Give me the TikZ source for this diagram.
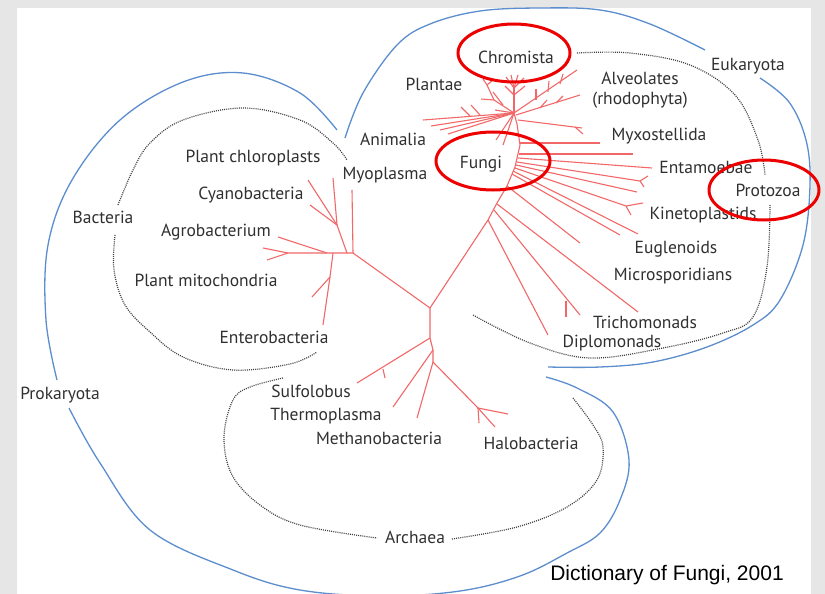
\documentclass[tikz,border=0pt]{standalone}
\usepackage{fontspec}
\setmainfont{PT Sans}
\newfontfamily\captionfont{Liberation Sans}
\usetikzlibrary{positioning}

\definecolor{treered}{RGB}{242,104,104}
\definecolor{groupblue}{RGB}{92,142,206}
\definecolor{ringred}{RGB}{236,0,0}
\definecolor{labelgray}{RGB}{48,48,48}
\definecolor{panelgray}{RGB}{230,230,230}

\begin{document}
\begin{tikzpicture}[x=1pt,y=-1pt]

    \tikzstyle{taxon} = [text=labelgray, font=\fontsize{17.5}{19}\selectfont,
        inner sep=1pt, text height=1.5ex, text depth=.25ex, yshift=-3pt]
    \tikzstyle{branch} = [draw=treered, line width=1.1pt]
    \tikzstyle{realm} = [draw=groupblue, line width=1.3pt]
    \tikzstyle{clade} = [draw=black!75, line width=1.2pt, dash pattern=on 1pt off 1.1pt]
    \tikzstyle{ring} = [draw=ringred, line width=3pt]

    % Background
    \useasboundingbox (0,0) rectangle (825,594);
    \fill[panelgray] (0,0) rectangle (825,594);
    \fill[white] (17,8) rectangle (811,594);

    % Eukaryota
    \node[taxon] (chromista) at (516,57) {Chromista};
    \node[taxon] (plantae) at (434,84) {Plantae};
    \node[taxon] (alveolates) at (640,78) {Alveolates};
    \node[taxon, below=6pt of alveolates] (rhodophyta) {(rhodophyta)};
    \node[taxon] (eukaryota) at (748,64) {Eukaryota};
    \node[taxon] (animalia) at (393,139) {Animalia};
    \node[taxon] (myxostellida) at (659,134) {Myxostellida};
    \node[taxon] (fungi) at (481,162) {Fungi};
    \node[taxon] (entamoebae) at (706,167) {Entamoebae};
    \node[taxon] (protozoa) at (768,190) {Protozoa};
    \node[taxon] (kinetoplastids) at (703,213) {Kinetoplastids};
    \node[taxon] (euglenoids) at (676,247) {Euglenoids};
    \node[taxon] (microsporidians) at (673,274) {Microsporidians};
    \node[taxon] (trichomonads) at (645,322) {Trichomonads};
    \node[taxon] (diplomonads) at (612,341) {Diplomonads};

    % Bacteria
    \node[taxon] (chloroplasts) at (253,156) {Plant chloroplasts};
    \node[taxon] (myoplasma) at (385,173) {Myoplasma};
    \node[taxon] (cyanobacteria) at (251,193) {Cyanobacteria};
    \node[taxon] (bacteria) at (103,217) {Bacteria};
    \node[taxon] (agrobacterium) at (216,230) {Agrobacterium};
    \node[taxon] (mitochondria) at (206,280) {Plant mitochondria};
    \node[taxon] (enterobacteria) at (274,337) {Enterobacteria};
    \node[taxon] (prokaryota) at (60,393) {Prokaryota};

    % Archaea
    \node[taxon] (sulfolobus) at (311,391) {Sulfolobus};
    \node[taxon] (thermoplasma) at (326,414) {Thermoplasma};
    \node[taxon] (methanobacteria) at (379,438) {Methanobacteria};
    \node[taxon] (halobacteria) at (531,443) {Halobacteria};
    \node[taxon] (archaea) at (415,537) {Archaea};

    \node[font=\captionfont\fontsize{21}{23}\selectfont] (source) at (667,575) {Dictionary of Fungi, 2001};

    % Domains
    \draw[realm] plot[smooth, tension=0.6] coordinates {(337,130) (300,93) (243,73) (183,82)
        (120,120) (72,180) (48,245) (46,320) (57,380)};
    \draw[realm] plot[smooth, tension=0.6] coordinates {(69,408) (100,463) (150,530) (233,570)
        (300,590) (383,596) (460,591) (520,576) (567,553) (600,533) (620,500) (629,460)
        (613,412) (577,388) (546,377)};
    \draw[realm] plot[smooth, tension=0.6] coordinates {(345,138) (363,93) (397,45) (430,24)
        (480,11) (540,8) (600,10) (650,24) (705,50)};
    \draw[realm] plot[smooth, tension=0.6] coordinates {(760,78) (789,102) (806,140) (810,185)
        (803,245) (780,300) (753,325) (707,347) (653,362) (600,367) (548,367)};

    % Groups
    \draw[clade] plot[smooth, tension=0.6] coordinates {(118,205) (133,170) (150,143) (183,120)
        (243,108) (300,120) (333,143) (347,160)};
    \draw[clade] plot[smooth, tension=0.6] coordinates {(115,235) (114,270) (125,305) (150,332)
        (183,357) (233,370) (290,364) (317,352)};
    \draw[clade] plot[smooth, tension=0.6] coordinates {(577,53) (630,53) (690,65) (735,95)
        (758,140) (765,175)};
    \draw[clade] plot[smooth, tension=0.6] coordinates {(770,205) (767,267) (753,317) (723,333)
        (663,348) (590,358) (530,343) (473,315)};
    \draw[clade] plot[smooth, tension=0.6] coordinates {(283,378) (250,387) (233,400) (224,437)
        (232,475) (260,505) (300,525) (377,538)};
    \draw[clade] plot[smooth, tension=0.6] coordinates {(452,539) (517,527) (567,507) (597,480)
        (603,447) (593,425) (573,398)};

    % Tree
    \coordinate (root) at (430,308);
    \coordinate (bac) at (353,253);
    \coordinate (arc) at (430,338);
    \coordinate (crown) at (514,113);
    \draw[branch] (root) -- (bac);
    \draw[branch] (root) -- (arc) -- (433,350) -- (433,362);
    \draw[branch] (root) -- (488,220) -- (497,203) -- (507,186) -- (515,167) -- (520,145) -- (517,124) -- (crown);

    % bacterial branches
    \draw[branch] (bac) -- (352,190);
    \draw[branch] (bac) -- (288,253) -- (263,248);
    \draw[branch] (288,253) -- (267,260);
    \draw[branch] (347,253) -- (337,225) -- (333,178);
    \draw[branch] (337,225) -- (308,180);
    \draw[branch] (337,225) -- (310,205);
    \draw[branch] (327,253) -- (278,237);
    \draw[branch] (333,253) -- (330,277) -- (323,325);
    \draw[branch] (330,277) -- (312,297);

    % archaeal branches
    \draw[branch] (arc) -- (357,383);
    \draw[branch] (383,369) -- (385,378);
    \draw[branch] (433,350) -- (393,407);
    \draw[branch] (433,362) -- (417,418);
    \draw[branch] (433,362) -- (478,408) -- (508,414);
    \draw[branch] (478,408) -- (495,427);
    \draw[branch] (478,408) -- (479,423);

    % eukaryote branches
    \draw[branch] (488,220) -- (548,335);
    \draw[branch] (494,210) -- (580,315);
    \draw[branch] (566,301) -- (566,317);
    \draw[branch] (497,204) -- (638,312);
    \draw[branch] (507,186) -- (580,243);
    \draw[branch] (512,174) -- (620,235);
    \draw[branch] (513,171) -- (638,234);
    \draw[branch] (515,168) -- (626,206) -- (643,203);
    \draw[branch] (626,206) -- (631,215);
    \draw[branch] (516,165) -- (637,192);
    \draw[branch] (517,162) -- (640,181) -- (648,176);
    \draw[branch] (640,181) -- (644,187);
    \draw[branch] (518,158) -- (652,168);
    \draw[branch] (519,154) -- (633,154);
    \draw[branch] (520,143) -- (600,143);

    % crown
    \draw[branch] (crown) -- (514,88);
    \draw[branch] (514,88) -- (506,77);
    \draw[branch] (514,88) -- (511,75);
    \draw[branch] (514,88) -- (518,75);
    \draw[branch] (514,88) -- (524,78);
    \draw[branch] (514,95) -- (505,86);
    \draw[branch] (514,95) -- (525,86);
    \draw[branch] (crown) -- (494,100) -- (487,85);
    \draw[branch] (494,100) -- (481,99);
    \draw[branch] (487,85) -- (483,79);
    \draw[branch] (487,85) -- (493,80);
    \draw[branch] (crown) -- (495,110);
    \draw[branch] (503,105) -- (493,92);
    \draw[branch] (crown) -- (423,120);
    \draw[branch] (crown) -- (431,126);
    \draw[branch] (crown) -- (440,130);
    \draw[branch] (crown) -- (448,134);
    \draw[branch] (470,116) -- (461,107);
    \draw[branch] (480,115) -- (471,105);
    \draw[branch] (crown) -- (503,145);
    \draw[branch] (crown) -- (496,140);
    \draw[branch] (crown) -- (577,70);
    \draw[branch] (536,100) -- (536,89);
    \draw[branch] (548,92) -- (549,81);
    \draw[branch] (560,84) -- (563,74);
    \draw[branch] (516,115) -- (580,95);
    \draw[branch] (540,108) -- (547,100);
    \draw[branch] (556,103) -- (563,96);
    \draw[branch] (518,120) -- (582,128);
    \draw[branch] (575,127) -- (583,134);

    % Highlights
    \draw[ring] ([shift={(-2,-7)}]chromista.center) ellipse [x radius=56pt, y radius=29pt];
    \draw[ring] ([shift={(12,-4)}]fungi.center) ellipse [x radius=57pt, y radius=29pt];
    \draw[ring] ([shift={(-4,-3)}]protozoa.center) ellipse [x radius=55pt, y radius=30pt];

\end{tikzpicture}
\end{document}
